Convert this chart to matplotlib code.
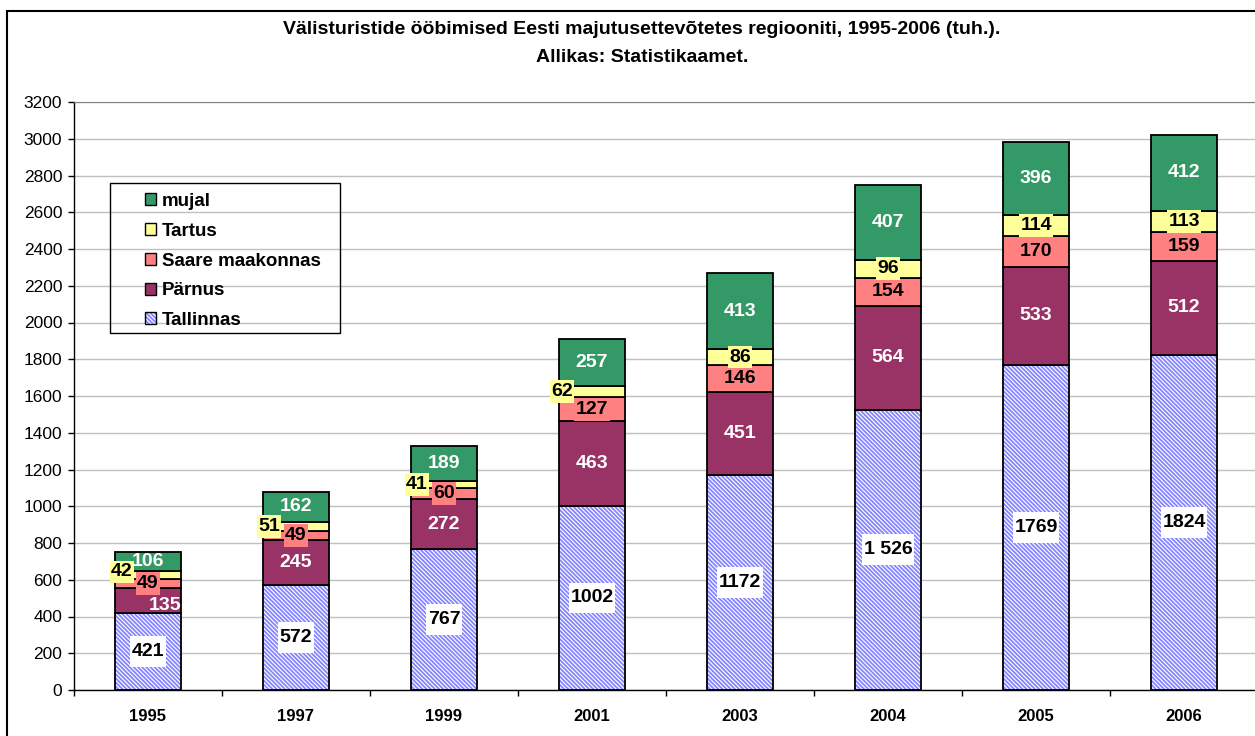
import matplotlib
matplotlib.use('Agg')
import matplotlib.pyplot as plt
from matplotlib.patches import Patch, Rectangle
from matplotlib.path import Path

plt.rcParams['font.family'] = ['Liberation Sans', 'DejaVu Sans']
plt.rcParams['hatch.linewidth'] = 1.3

# Andmed (tuh. ööbimist)
years = ['1995', '1997', '1999', '2001', '2003', '2004', '2005', '2006']
tallinnas = [421, 572, 767, 1002, 1172, 1526, 1769, 1824]
parnus = [135, 245, 272, 463, 451, 564, 533, 512]
saare = [49, 49, 60, 127, 146, 154, 170, 159]
tartus = [42, 51, 41, 62, 86, 96, 114, 113]
mujal = [106, 162, 189, 257, 413, 407, 396, 412]
tallinnas_labels = ['421', '572', '767', '1002', '1172', '1 526', '1769', '1824']
yticks = list(range(0, 3201, 200))

HATCH_BLUE = '#8585ff'
HATCH = '\\' * 8


def label_box(px, py):
    # kast nagu Exceli andmesildil: eraldi horisontaalne ja vertikaalne täidis
    def box(x0, y0, width, height, mutation_size):
        ax0, ay0 = x0 - px * mutation_size, y0 - py * mutation_size
        ax1, ay1 = x0 + width + px * mutation_size, y0 + height + py * mutation_size
        return Path([(ax0, ay0), (ax1, ay0), (ax1, ay1), (ax0, ay1), (ax0, ay0)], closed=True)
    return box


fig = plt.figure(figsize=(12.55, 7.36), dpi=100)
ax = fig.add_axes([74 / 1255, 46 / 736, 1184 / 1255, 588 / 736])

x = list(range(len(years)))
w = 0.44

# seeria: nimi, väärtused, värv, sildi tekst, sildi kast
series = [
    ('Tallinnas', tallinnas, None, 'black', 'white', 0.35),
    ('Pärnus', parnus, '#993366', 'white', None, 0),
    ('Saare maakonnas', saare, '#ff8080', 'black', '#ff8080', 0.15),
    ('Tartus', tartus, '#ffff99', 'black', '#ffff99', 0.15),
    ('mujal', mujal, '#339966', 'white', None, 0),
]

# käsitsi nihutatud sildid (pikslites)
offsets = {
    ('Pärnus', 0): (17, -5),
    ('Tartus', 0): (-26, 3),
    ('Tartus', 1): (-27, 0),
    ('Tartus', 2): (-27, 0),
    ('Tartus', 3): (-30, 0),
}

bottom = [0] * len(years)
handles = []
for name, vals, color, tcolor, bcolor, py in series:
    if color is None:
        ax.bar(x, vals, w, bottom=bottom, color='white', edgecolor=HATCH_BLUE,
               hatch=HATCH, linewidth=0, zorder=2)
        ax.bar(x, vals, w, bottom=bottom, fill=False, edgecolor='black', linewidth=1.3, zorder=3)
        handles.append((Patch(facecolor='white', edgecolor=HATCH_BLUE, hatch=HATCH, lw=0),
                        Patch(fill=False, edgecolor='black', lw=1)))
        texts = tallinnas_labels
    else:
        ax.bar(x, vals, w, bottom=bottom, color=color, edgecolor='black', linewidth=1.3, zorder=3)
        handles.append(Patch(facecolor=color, edgecolor='black', lw=1))
        texts = [str(v) for v in vals]
    for i, v in enumerate(vals):
        dx, dy = offsets.get((name, i), (0, 0))
        bbox = None
        if bcolor is not None:
            bbox = dict(boxstyle=label_box(0.08, py), facecolor=bcolor, edgecolor='none')
        ax.annotate(texts[i], (i, bottom[i] + v / 2), xytext=(dx * 0.72, dy * 0.72),
                    textcoords='offset points', ha='center', va='center',
                    fontsize=14, fontweight='bold', color=tcolor, bbox=bbox, zorder=5)
    bottom = [b + v for b, v in zip(bottom, vals)]

# teljed
ax.set_xlim(-0.5, len(years) - 0.5)
ax.set_ylim(0, 3200)
ax.set_yticks(yticks)
ax.tick_params(axis='y', length=4.5, width=1, pad=4, labelsize=12.5)
ax.set_xticks([i - 0.5 for i in range(len(years) + 1)])
ax.set_xticklabels([])
ax.tick_params(axis='x', which='major', length=4.5, width=1)
ax.set_xticks(x, years, minor=True)
ax.tick_params(axis='x', which='minor', length=0, pad=13.5, labelsize=12)
for lab in ax.get_xticklabels(minor=True):
    lab.set_fontweight('bold')
ax.yaxis.grid(True, color='#c0c0c0', lw=1)
ax.set_axisbelow(True)
ax.spines['right'].set_visible(False)
ax.spines['top'].set_color('#808080')
ax.spines['left'].set_linewidth(1)
ax.spines['bottom'].set_linewidth(1)

# legend (raam käsitsi)
leg = fig.legend(handles[::-1], [s[0] for s in series][::-1], loc='upper left',
                 bbox_to_anchor=(145 / 1255, 1 - 193 / 736), bbox_transform=fig.transFigure,
                 frameon=False, borderpad=0, borderaxespad=0, handlelength=0.59,
                 handleheight=0.59, handletextpad=0.3, labelspacing=0.68,
                 prop={'size': 13.5, 'weight': 'bold'})
fig.add_artist(Rectangle((110 / 1255, 1 - 333 / 736), 230 / 1255, 150 / 736,
                         transform=fig.transFigure, fill=False, ec='black', lw=1))

# pealkiri
fig.text(642 / 1255, 1 - 30 / 736,
         'Välisturistide ööbimised Eesti majutusettevõtetes regiooniti, 1995-2006 (tuh.).',
         ha='center', va='center', fontsize=14, fontweight='bold')
fig.text(642 / 1255, 1 - 57 / 736, 'Allikas: Statistikaamet.',
         ha='center', va='center', fontsize=14, fontweight='bold')

# välimine raam
fig.add_artist(Rectangle((7 / 1255, -0.1), 1.2, (736 - 11) / 736 + 0.1,
                         transform=fig.transFigure, fill=False, ec='black', lw=1.5))

fig.savefig('out.png', dpi=100)
